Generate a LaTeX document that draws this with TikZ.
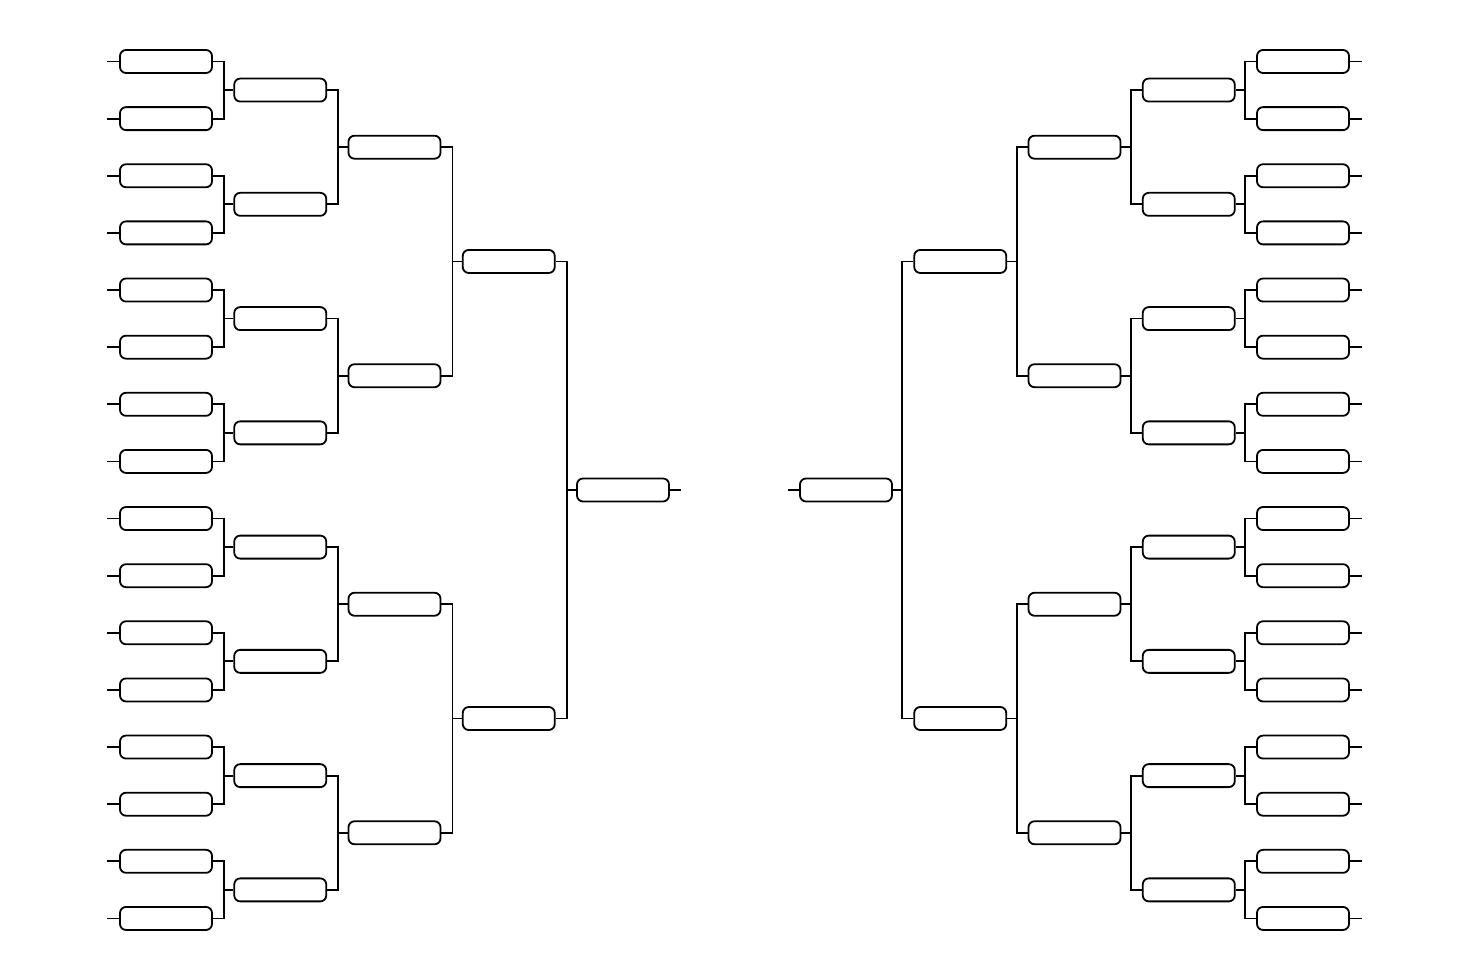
\documentclass[tikz,border=0pt]{standalone}
\usepackage{tikz}
\begin{document}
\begin{tikzpicture}[x=1pt,y=-1pt]
	\tikzset{team/.style={shape = rectangle, draw, rounded corners = 6pt, minimum width = 92pt, minimum height = 23pt, inner sep = 0pt, line width = 1.8pt}}
	\tikzset{link/.style={line width = 1.8pt}}
	\useasboundingbox (0,0) rectangle (1470,980);
	%first round
	\foreach \k in {1,...,16}{
		\pgfmathsetmacro\yy{61.5+(\k-1)*57.13}
		\node[team] (L1-\k) at (166, \yy) {};
		\node[team] (R1-\k) at (1303, \yy) {};
		\draw[link] (L1-\k.west) -- ++(-12,0);
		\draw[link] (R1-\k.east) -- ++(12,0);
	}
	%later rounds
	\foreach \j/\n in {2/8,3/4,4/2,5/1}{
		\foreach \k in {1,...,\n}{
			\pgfmathsetmacro\yy{61.5+57.13*((\k-1)*2^(\j-1)+(2^(\j-1)-1)/2)}
			\pgfmathsetmacro\xl{166+(\j-1)*114.25}
			\pgfmathsetmacro\xr{1303-(\j-1)*114.25}
			\pgfmathtruncatemacro\i{\j-1}
			\pgfmathtruncatemacro\a{2*\k-1}
			\pgfmathtruncatemacro\b{2*\k}
			\node[team] (L\j-\k) at (\xl, \yy) {};
			\node[team] (R\j-\k) at (\xr, \yy) {};
			%edges
			\draw[link] (L\i-\a.east) -- ++(11,0) |- (L\j-\k.west);
			\draw[link] (L\i-\b.east) -- ++(11,0) |- (L\j-\k.west);
			\draw[link] (R\i-\a.west) -- ++(-11,0) |- (R\j-\k.east);
			\draw[link] (R\i-\b.west) -- ++(-11,0) |- (R\j-\k.east);
		}
	}
	%final stubs
	\draw[link] (L5-1.east) -- ++(11,0);
	\draw[link] (R5-1.west) -- ++(-11,0);
\end{tikzpicture}
\end{document}
